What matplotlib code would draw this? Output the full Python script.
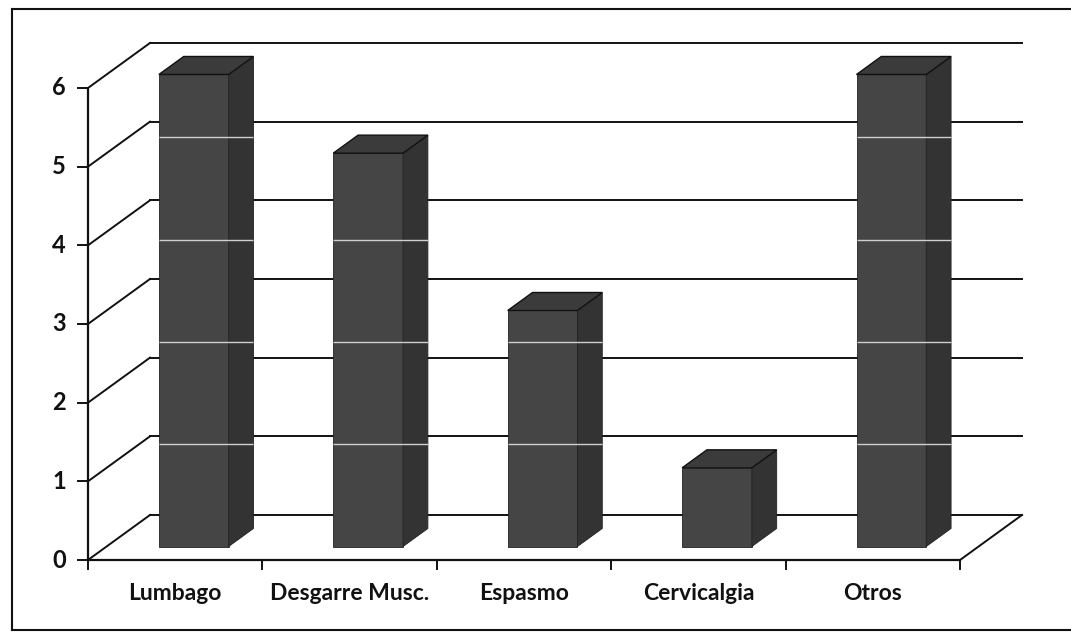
import matplotlib
matplotlib.use("Agg")
import matplotlib.pyplot as plt
from matplotlib.patches import Polygon
from matplotlib.lines import Line2D

categories = ["Lumbago", "Desgarre Musc.", "Espasmo", "Cervicalgia", "Otros"]
values = [6, 5, 3, 1, 6]
y_ticks = [0, 1, 2, 3, 4, 5, 6]

plt.rcParams['font.family'] = ['Lato', 'DejaVu Sans']

W, H = 1071, 634
fig = plt.figure(figsize=(W / 100, H / 100), dpi=100)
ax = fig.add_axes([0, 0, 1, 1])

# pixel scale of the oblique 3D frame
PX0, PY0 = 88.0, 560.0      # front origin (pixels)
SX, SY = 174.4, 78.67       # pixels per category / per unit
ax.set_xlim(-PX0 / SX, (W - PX0) / SX)
ax.set_ylim(-(H - PY0) / SY, PY0 / SY)
ax.axis('off')

DX, DY = 62 / SX, 45 / SY   # depth offset (data units)
n = len(categories)
ymax = max(y_ticks)
lc = '#111111'

# left wall: front axis and diagonals
ax.plot([0, 0], [0, ymax], color=lc, lw=1.6, zorder=2, solid_capstyle='butt')
for v in y_ticks:
    ax.plot([0, DX], [v, v + DY], color=lc, lw=1.4, zorder=1)
    # back wall gridlines
    ax.plot([DX, n + DX], [v + DY, v + DY], color=lc, lw=1.4, zorder=1)
    # tick mark
    ax.plot([-10 / SX, 0], [v, v], color=lc, lw=1.4, zorder=2)
    ax.text(-22 / SX, v, str(v), ha='right', va='center',
            fontsize=17, fontweight='bold', color='#111111')

# floor
ax.plot([0, n], [0, 0], color=lc, lw=1.6, zorder=2)
ax.plot([n, n + DX], [0, DY], color=lc, lw=1.4, zorder=2)
for i in range(n + 1):
    ax.plot([i, i], [0, -9 / SY], color=lc, lw=1.4, zorder=2)

# category labels
for i, c in enumerate(categories):
    ax.text(i + 0.5, -34 / SY, c, ha='center', va='center',
            fontsize=16.5, fontweight='bold', color='#111111')

# bars
d0, d1 = 0.3, 0.7
bw = 0.4
front_c, side_c, top_c = '#454545', '#333333', '#3b3b3b'
xs = [i + 0.5 + d0 * DX for i in range(n)]
ax.bar(xs, values, width=bw, bottom=d0 * DY, color=front_c,
       edgecolor='#222222', linewidth=0.6, zorder=5)
for i, v in enumerate(values):
    xl = i + 0.5 - bw / 2
    xr = i + 0.5 + bw / 2
    side = [(xr + d0 * DX, d0 * DY), (xr + d1 * DX, d1 * DY),
            (xr + d1 * DX, v + d1 * DY), (xr + d0 * DX, v + d0 * DY)]
    top = [(xl + d0 * DX, v + d0 * DY), (xl + d1 * DX, v + d1 * DY),
           (xr + d1 * DX, v + d1 * DY), (xr + d0 * DX, v + d0 * DY)]
    ax.add_patch(Polygon(side, closed=True, facecolor=side_c,
                         edgecolor='#222222', lw=0.6, zorder=5))
    ax.add_patch(Polygon(top, closed=True, facecolor=top_c,
                         edgecolor='#111111', lw=1.0, zorder=5))
    # light scan streaks across the bars
    for s in [1.3, 2.6, 3.9, 5.2]:
        if s < v - 0.35:
            ax.plot([xl + d0 * DX, xr + d0 * DX + (d1 - d0) * DX],
                    [s + d0 * DY, s + d0 * DY], color='#cfcfcf',
                    lw=1.0, zorder=6, solid_capstyle='butt')

# outer frame
fr = dict(color='#111111', lw=1.5, transform=fig.transFigure)
l, r = 12 / W, 1.0
t, b = 1 - 9 / H, 1 - 630 / H
fig.add_artist(Line2D([l, r], [t, t], **fr))
fig.add_artist(Line2D([l, l], [t, b], **fr))
fig.add_artist(Line2D([l, r], [b, b], **fr))

fig.savefig('out.png', dpi=100)
